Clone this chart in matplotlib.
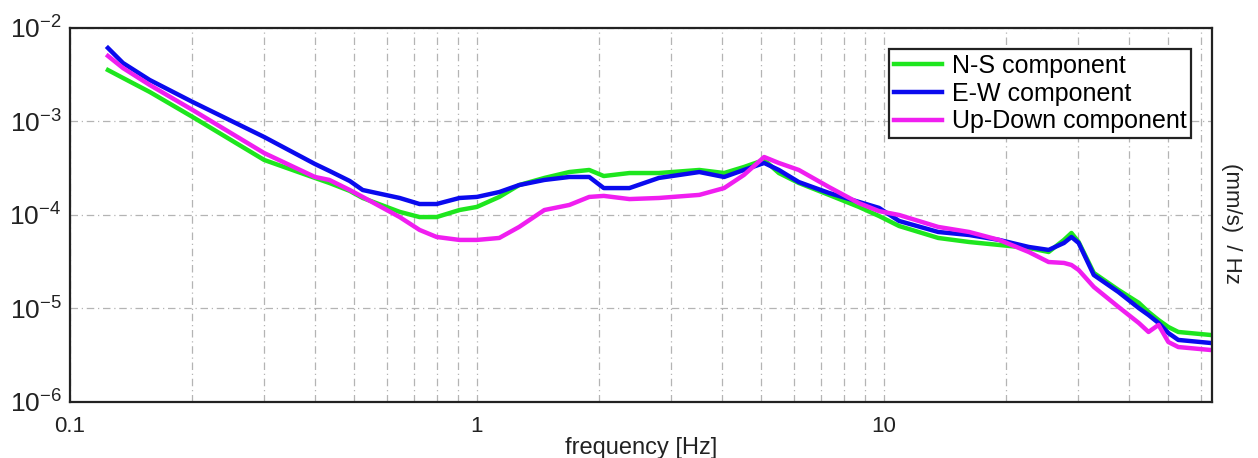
import matplotlib
matplotlib.use("Agg")
import matplotlib.pyplot as plt
from matplotlib.ticker import LogLocator, FixedLocator, NullFormatter

plt.rcParams['font.family'] = ['Liberation Sans', 'DejaVu Sans']

# spectra (frequency in Hz, value in (mm/s)/Hz)
freq = [0.124, 0.135, 0.157, 0.2, 0.3, 0.4, 0.434, 0.487, 0.524, 0.646,
        0.723, 0.796, 0.906, 1.0, 1.135, 1.27, 1.465, 1.687, 1.888, 2.05,
        2.37, 2.80, 3.52, 4.05, 4.53, 5.08, 5.52, 6.18, 7.33, 8.68,
        9.73, 10.9, 13.6, 16.2, 19.2, 22.7, 25.4, 27.7, 28.9, 30.1,
        32.8, 37.7, 42.3, 44.7, 47.3, 50.0, 52.9, 63.4]

ns = [3.55e-3, 2.92e-3, 2.07e-3, 1.12e-3, 3.88e-4, 2.49e-4, 2.20e-4, 1.81e-4, 1.52e-4, 1.08e-4,
      9.5e-5, 9.5e-5, 1.13e-4, 1.22e-4, 1.56e-4, 2.09e-4, 2.49e-4, 2.88e-4, 3.03e-4, 2.61e-4,
      2.81e-4, 2.81e-4, 3.03e-4, 2.81e-4, 3.26e-4, 3.88e-4, 2.81e-4, 2.20e-4, 1.64e-4, 1.22e-4,
      9.75e-5, 7.62e-5, 5.68e-5, 5.14e-5, 4.78e-5, 4.44e-5, 4.02e-5, 5.41e-5, 6.42e-5, 5.14e-5,
      2.40e-5, 1.58e-5, 1.15e-5, 9.18e-6, 7.53e-6, 6.34e-6, 5.61e-6, 5.21e-6]

ew = [6.11e-3, 4.22e-3, 2.78e-3, 1.62e-3, 6.83e-4, 3.51e-4, 2.96e-4, 2.31e-4, 1.85e-4, 1.52e-4,
      1.31e-4, 1.31e-4, 1.52e-4, 1.56e-4, 1.76e-4, 2.09e-4, 2.37e-4, 2.55e-4, 2.55e-4, 1.94e-4,
      1.94e-4, 2.49e-4, 2.88e-4, 2.55e-4, 3.03e-4, 3.60e-4, 3.03e-4, 2.25e-4, 1.72e-4, 1.38e-4,
      1.19e-4, 8.63e-5, 6.58e-5, 6.11e-5, 5.41e-5, 4.55e-5, 4.23e-5, 5.02e-5, 5.82e-5, 5.02e-5,
      2.28e-5, 1.50e-5, 1.01e-5, 8.51e-6, 7.0e-6, 5.47e-6, 4.61e-6, 4.28e-6]

ud = [5.02e-3, 3.73e-3, 2.46e-3, 1.33e-3, 4.60e-4, 2.55e-4, 2.37e-4, 1.85e-4, 1.56e-4, 9.5e-5,
      6.92e-5, 5.82e-5, 5.41e-5, 5.41e-5, 5.68e-5, 7.45e-5, 1.13e-4, 1.28e-4, 1.56e-4, 1.60e-4,
      1.48e-4, 1.52e-4, 1.64e-4, 1.94e-4, 2.68e-4, 4.17e-4, 3.60e-4, 3.03e-4, 1.99e-4, 1.34e-4,
      1.10e-4, 1.0e-4, 7.45e-5, 6.58e-5, 5.41e-5, 4.02e-5, 3.14e-5, 3.07e-5, 2.92e-5, 2.58e-5,
      1.70e-5, 1.04e-5, 7.0e-6, 5.61e-6, 6.67e-6, 4.38e-6, 3.87e-6, 3.60e-6]

labels = ['N-S component', 'E-W component', 'Up-Down component']
colors = ['#1ee61e', '#0a0aee', '#f01ef0']

xticks = [0.1, 1, 10]
xticklabels = ['0.1', '1', '10']
yticks = [1e-6, 1e-5, 1e-4, 1e-3, 1e-2]
yticklabels = [r'$\mathregular{10^{-6}}$', r'$\mathregular{10^{-5}}$', r'$\mathregular{10^{-4}}$',
               r'$\mathregular{10^{-3}}$', r'$\mathregular{10^{-2}}$']

fig = plt.figure(figsize=(12.58, 4.58), dpi=100)
ax = fig.add_axes([0.0556, 0.1223, 0.9078, 0.8166])

for vals, lab, col in zip([ns, ew, ud], labels, colors):
    ax.plot(freq, vals, color=col, lw=3.2, label=lab, solid_joinstyle='round')

ax.set_xscale('log')
ax.set_yscale('log')
ax.set_xlim(0.1, 64)
ax.set_ylim(1e-6, 1e-2)

ax.xaxis.set_major_locator(FixedLocator(xticks))
ax.set_xticklabels(xticklabels)
ax.xaxis.set_minor_locator(LogLocator(base=10, subs=range(2, 10)))
ax.xaxis.set_minor_formatter(NullFormatter())
ax.yaxis.set_major_locator(FixedLocator(yticks))
ax.set_yticklabels(yticklabels)
ax.yaxis.set_minor_locator(FixedLocator([]))

ax.tick_params(axis='both', which='both', length=0, colors='#222222')
ax.tick_params(axis='x', pad=10, labelsize=16)
ax.tick_params(axis='y', pad=6, labelsize=19)

gridstyle = dict(color='#b4b4b4', lw=0.9, linestyle=(0, (6, 3, 1, 3)))
ax.grid(True, which='major', axis='both', **gridstyle)
ax.grid(True, which='minor', axis='x', **gridstyle)

for s in ax.spines.values():
    s.set_linewidth(1.6)
    s.set_color('#222222')

ax.set_xlabel('frequency [Hz]', fontsize=17, labelpad=0, color='#222222')
fig.text(0.979, 0.513, '(mm/s)  / Hz', rotation=-90, fontsize=16,
         ha='center', va='center', color='#222222')

leg = ax.legend(loc='upper right', bbox_to_anchor=(0.982, 0.944), borderaxespad=0,
                fontsize=18, fancybox=False, framealpha=1, edgecolor='#222222',
                handlelength=1.9, labelspacing=0.15, borderpad=0.2, handletextpad=0.4)
leg.get_frame().set_linewidth(1.6)

fig.savefig('out.png', dpi=100)
